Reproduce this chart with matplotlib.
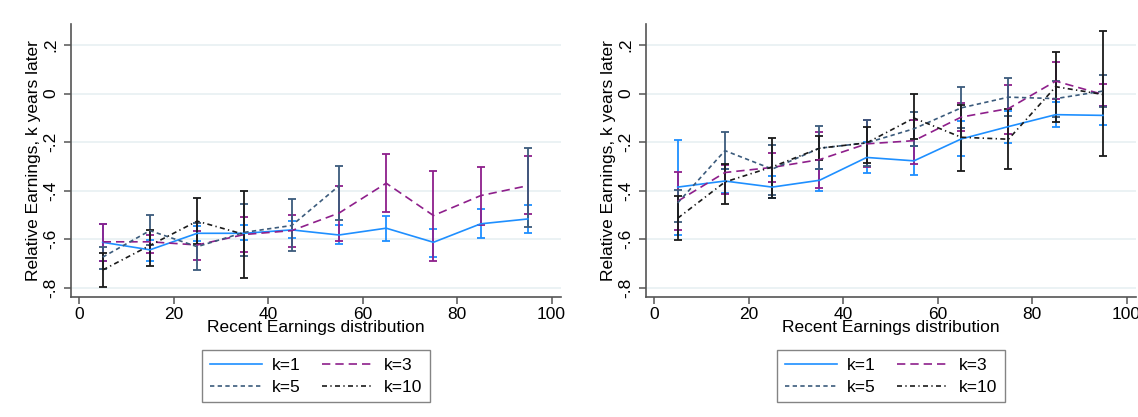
import matplotlib
matplotlib.use("Agg")
import matplotlib.pyplot as plt
import numpy as np

nan = np.nan

# percentile bins of recent earnings
x_vals = [5, 15, 25, 35, 45, 55, 65, 75, 85, 95]
x_ticks = [0, 20, 40, 60, 80, 100]
y_ticks = [0.2, 0, -0.2, -0.4, -0.6, -0.8]
y_tick_labels = [".2", "0", "-.2", "-.4", "-.6", "-.8"]
series_labels = ["k=1", "k=3", "k=5", "k=10"]

# left panel: mean, lower and upper CI
left_k1 = [-0.612, -0.643, -0.575, -0.575, -0.561, -0.582, -0.554, -0.612, -0.536, -0.516]
left_k1_lo = [-0.69, -0.69, -0.605, -0.602, -0.594, -0.621, -0.605, -0.671, -0.594, -0.573]
left_k1_hi = [-0.536, -0.602, -0.547, -0.54, -0.525, -0.539, -0.505, -0.557, -0.477, -0.457]
left_k3 = [-0.61, -0.61, -0.623, -0.58, -0.564, -0.492, -0.369, -0.502, -0.42, -0.379]
left_k3_lo = [-0.69, -0.657, -0.683, -0.65, -0.632, -0.605, -0.488, -0.687, -0.539, -0.495]
left_k3_hi = [-0.536, -0.584, -0.567, -0.506, -0.498, -0.379, -0.248, -0.32, -0.303, -0.259]
left_k5 = [-0.673, -0.564, -0.63, -0.571, -0.543, -0.38, nan, nan, nan, -0.387]
left_k5_lo = [-0.72, -0.625, -0.728, -0.669, -0.646, -0.52, nan, nan, nan, -0.55]
left_k5_hi = [-0.63, -0.50, -0.531, -0.454, -0.435, -0.298, nan, nan, nan, -0.224]
left_k10 = [-0.726, -0.625, -0.525, -0.58, nan, nan, nan, nan, nan, nan]
left_k10_lo = [-0.796, -0.71, -0.619, -0.758, nan, nan, nan, nan, nan, nan]
left_k10_hi = [-0.657, -0.561, -0.429, -0.403, nan, nan, nan, nan, nan, nan]

# right panel
right_k1 = [-0.385, -0.36, -0.385, -0.357, -0.263, -0.277, -0.187, -0.136, -0.087, -0.09]
right_k1_lo = [-0.582, -0.41, -0.43, -0.401, -0.325, -0.336, -0.259, -0.203, -0.138, -0.129]
right_k1_hi = [-0.19, -0.31, -0.34, -0.311, -0.2, -0.217, -0.115, -0.07, -0.035, -0.05]
right_k3 = [-0.443, -0.325, -0.304, -0.272, -0.207, -0.194, -0.097, -0.062, 0.051, -0.004]
right_k3_lo = [-0.56, -0.412, -0.364, -0.387, -0.304, -0.29, -0.155, -0.166, -0.024, -0.05]
right_k3_hi = [-0.322, -0.293, -0.246, -0.159, -0.11, -0.11, -0.039, 0.034, 0.129, 0.041]
right_k5 = [-0.45, -0.235, -0.311, -0.225, -0.203, -0.145, -0.059, -0.015, -0.021, 0.01]
right_k5_lo = [-0.53, -0.31, -0.419, -0.311, -0.297, -0.215, -0.14, -0.092, -0.097, -0.054]
right_k5_hi = [-0.397, -0.159, -0.212, -0.134, -0.111, -0.075, 0.025, 0.062, 0.051, 0.076]
right_k10 = [-0.513, -0.364, -0.302, -0.225, -0.203, -0.101, -0.18, -0.188, 0.028, -0.004]
right_k10_lo = [-0.604, -0.454, -0.429, -0.274, -0.284, -0.187, -0.318, -0.311, -0.118, -0.258]
right_k10_hi = [-0.422, -0.288, -0.183, -0.176, -0.138, -0.004, -0.046, -0.065, 0.169, 0.259]

colors = ['#1e8fff', '#8e1f8b', '#3b5b7c', '#1a1a1a']
styles = ['-', (0, (5, 3)), (0, (2.6, 2)), (0, (3, 2, 0.8, 2))]

plt.rcParams['font.family'] = ['Liberation Sans', 'DejaVu Sans']


def draw_panel(ax, means, los, his):
    x = np.array(x_vals, dtype=float)
    for i in range(4):
        m = np.array(means[i], dtype=float)
        lo = np.array(los[i], dtype=float)
        hi = np.array(his[i], dtype=float)
        ax.errorbar(x, m, yerr=[m - lo, hi - m], fmt='none', ecolor=colors[i],
                    elinewidth=1.3, capsize=3.2, capthick=1.3, zorder=2 + i)
    lines = []
    for i in range(4):
        ln, = ax.plot(x, means[i], color=colors[i], linestyle=styles[i], lw=1.2,
                      label=series_labels[i], zorder=7)
        lines.append(ln)

    ax.set_xlim(-1.7, 102)
    ax.set_ylim(-0.837, 0.286)
    ax.set_xticks(x_ticks)
    ax.set_yticks(y_ticks)
    ax.set_yticklabels(y_tick_labels, rotation=90, va='center')
    ax.grid(axis='y', color='#e8f0f2', linewidth=1.2)
    ax.set_axisbelow(True)
    for s in ['top', 'right']:
        ax.spines[s].set_visible(False)
    for s in ['left', 'bottom']:
        ax.spines[s].set_color('#555555')
        ax.spines[s].set_linewidth(1.2)
    ax.tick_params(axis='both', labelsize=12.5, length=5, width=1.1, color='#555555', pad=2)
    ax.tick_params(axis='y', pad=4)
    ax.set_xlabel("Recent Earnings distribution", fontsize=12.5, labelpad=-1)
    ax.set_ylabel("Relative Earnings, k years later", fontsize=12.5, labelpad=2)
    # legend filled by rows: k=1, k=3 / k=5, k=10
    order = [0, 2, 1, 3]
    leg = ax.legend([lines[j] for j in order], [series_labels[j] for j in order],
                    loc='upper center', bbox_to_anchor=(0.5, -0.194), ncol=2,
                    fontsize=12.5, handlelength=3.0, handletextpad=0.55,
                    columnspacing=1.25, labelspacing=0.38, borderaxespad=0,
                    fancybox=False, borderpad=0.45)
    frame = leg.get_frame()
    frame.set_edgecolor('#666666')
    frame.set_linewidth(1.0)


fig = plt.figure(figsize=(11.38, 4.17), dpi=100)
ax1 = fig.add_axes([0.0624, 0.2878, 0.4306, 0.6547])
ax2 = fig.add_axes([0.5677, 0.2878, 0.4306, 0.6547])

draw_panel(ax1, [left_k1, left_k3, left_k5, left_k10],
           [left_k1_lo, left_k3_lo, left_k5_lo, left_k10_lo],
           [left_k1_hi, left_k3_hi, left_k5_hi, left_k10_hi])
draw_panel(ax2, [right_k1, right_k3, right_k5, right_k10],
           [right_k1_lo, right_k3_lo, right_k5_lo, right_k10_lo],
           [right_k1_hi, right_k3_hi, right_k5_hi, right_k10_hi])

plt.savefig('out.png', dpi=100)
